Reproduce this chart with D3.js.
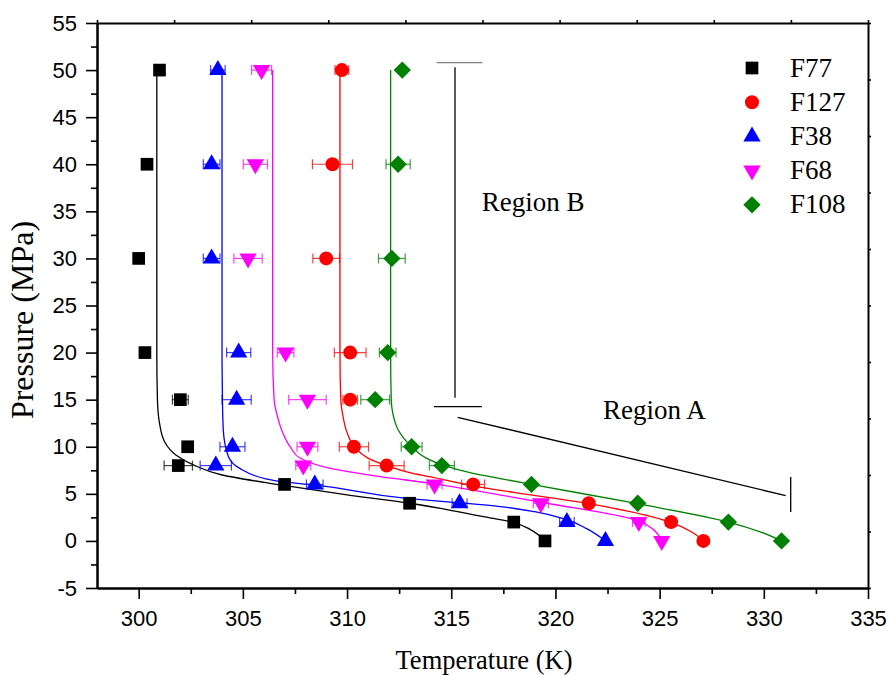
<!DOCTYPE html>
<html>
<head>
<meta charset="utf-8">
<script src="https://cdn.jsdelivr.net/npm/d3@7"></script>
<style>
  body { margin: 0; background: #fff; }
  svg { display: block; background: #fff; }
</style>
</head>
<body>
<svg id="chart" width="889" height="675"></svg>
<script>
// Pressure levels (MPa) shared by all samples
const pressures = [50, 40, 30, 20, 15, 10, 8, 6, 4, 2, 0];

// Measured temperature (K) and +/- error (K) for each sample
const f77T    = [301.0, 300.4, 300.0, 300.3, 302.0, 302.35, 301.9, 307.0, 313.0, 318.0, 319.5];
const f77Err  = [0, 0, 0, 0.15, 0.38, 0.2, 0.68, 0, 0, 0, 0];
const f127T   = [309.75, 309.3, 309.0, 310.15, 310.15, 310.33, 311.9, 316.05, 321.6, 325.55, 327.1];
const f127Err = [0.33, 0.96, 0.64, 0.76, 0.35, 0.7, 0.84, 0.55, 0, 0.25, 0];
const f38T    = [303.8, 303.5, 303.5, 304.8, 304.7, 304.5, 303.7, 308.45, 315.4, 320.55, 322.4];
const f38Err  = [0.35, 0.4, 0.4, 0.58, 0.7, 0.6, 0.75, 0.4, 0.36, 0.35, 0];
const f68T    = [305.9, 305.6, 305.25, 307.05, 308.1, 308.1, 307.9, 314.2, 319.3, 324.0, 325.1];
const f68Err  = [0.48, 0.58, 0.68, 0.4, 0.9, 0.5, 0.36, 0.36, 0.36, 0.3, 0];
const f108T   = [312.65, 312.45, 312.15, 311.95, 311.35, 313.1, 314.55, 318.85, 323.95, 328.3, 330.85];
const f108Err = [0, 0.58, 0.64, 0.4, 0.69, 0.5, 0.6, 0, 0, 0, 0];

// Fitted curves as [T (K), P (MPa)]
const fitF77 = [[300.87, 50], [300.87, 20], [300.9, 15], [301.0, 12.5], [301.25, 10.5], [301.8, 9.1],
  [302.6, 8.1], [304.0, 7.0], [306.8, 5.95], [310.0, 4.9], [313.0, 4.0], [314.8, 3.33], [316.5, 2.6],
  [318.0, 1.95], [318.8, 1.2], [319.5, 0]];
const fitF127 = [[309.66, 50], [309.66, 20], [309.7, 15], [309.8, 13.3], [310.0, 11.5], [310.35, 10.0],
  [311.0, 8.8], [311.9, 8.0], [313.0, 7.25], [314.0, 6.8], [316.05, 5.85], [318.0, 5.15], [321.6, 3.95],
  [325.5, 2.0], [326.5, 1.0], [327.1, 0]];
const fitF38 = [[304.0, 50], [304.0, 20], [304.02, 15], [304.06, 11.8], [304.3, 9.0], [304.85, 7.7],
  [306.1, 6.6], [306.8, 6.3], [308.4, 5.95], [312.86, 4.52], [315.4, 4.05], [317.34, 3.65], [319.0, 3.1],
  [320.5, 2.3], [321.5, 1.3], [322.4, 0]];
const fitF68 = [[306.43, 50], [306.43, 20], [306.5, 15], [306.65, 13.3], [306.95, 11.3], [307.3, 9.9],
  [307.74, 8.8], [309.2, 7.7], [311.6, 6.83], [314.0, 6.12], [317.3, 4.9], [319.6, 4.0], [323.9, 2.2],
  [324.7, 1.2], [325.1, 0]];
const fitF108 = [[312.09, 50], [312.09, 20], [312.12, 15], [312.2, 13.5], [312.45, 11.8], [313.1, 10.0],
  [313.8, 8.8], [314.6, 8.05], [316.0, 7.2], [317.4, 6.6], [318.85, 6.0], [323.95, 3.95], [328.3, 2.0],
  [329.9, 0.9], [330.85, 0]];

// Tick values
const xMajor = [300, 305, 310, 315, 320, 325, 330, 335];
const xMinor = [302.5, 307.5, 312.5, 317.5, 322.5, 327.5, 332.5];
const yMajor = [-5, 0, 5, 10, 15, 20, 25, 30, 35, 40, 45, 50, 55];
const yMinor = [-2.5, 2.5, 7.5, 12.5, 17.5, 22.5, 27.5, 32.5, 37.5, 42.5, 47.5, 52.5];

// Region annotations, in data units
const regionBLines = [[[314.3, 50.8], [316.5, 50.8]], [[315.18, 50.3], [315.18, 15.2]], [[314.17, 14.26], [316.47, 14.26]]];
const regionALines = [[[315.31, 13.13], [331.05, 4.81]], [[331.29, 6.79], [331.29, 3.08]]];
const regionLabels = [{ text: 'Region B', t: 316.47, p: 35.0 }, { text: 'Region A', t: 322.28, p: 12.95 }];

const series = [
  { name: 'F77',  temps: f77T,  errs: f77Err,  fit: fitF77,  color: '#000000', shape: 'square' },
  { name: 'F127', temps: f127T, errs: f127Err, fit: fitF127, color: '#ff0000', shape: 'circle' },
  { name: 'F38',  temps: f38T,  errs: f38Err,  fit: fitF38,  color: '#0000ff', shape: 'up' },
  { name: 'F68',  temps: f68T,  errs: f68Err,  fit: fitF68,  color: '#ff00ff', shape: 'down' },
  { name: 'F108', temps: f108T, errs: f108Err, fit: fitF108, color: '#008000', shape: 'diamond' }
];

const svg = d3.select('#chart');
const plotLeft = 97, plotRight = 868, plotTop = 23, plotBottom = 588;

const x = d3.scaleLinear().domain([298, 335]).range([plotLeft, plotRight]);
const y = d3.scaleLinear().domain([-5, 55]).range([plotBottom, plotTop]);

// marker shapes
function symbolPath(shape) {
  if (shape === 'square') return d3.symbol(d3.symbolSquare, 161)();
  if (shape === 'circle') return d3.symbol(d3.symbolCircle, 154)();
  if (shape === 'up' || shape === 'down') return d3.symbol(d3.symbolTriangle, 130)();
  return d3.symbol(d3.symbolSquare, 150)(); // diamond = rotated square
}
function symbolRotate(shape) {
  if (shape === 'down') return 180;
  if (shape === 'diamond') return 45;
  return 0;
}

// fitted curves
const fitLine = d3.line()
  .x(d => x(d[0]))
  .y(d => y(d[1]))
  .curve(d3.curveMonotoneY);

svg.append('g').selectAll('path')
  .data(series)
  .join('path')
  .attr('d', d => fitLine(d.fit))
  .attr('fill', 'none')
  .attr('stroke', d => d.color)
  .attr('stroke-width', 1.3);

// error bars + markers
series.forEach(s => {
  const pts = pressures.map((p, i) => ({ p: p, t: s.temps[i], e: s.errs[i] }));
  const g = svg.append('g');

  const eb = g.selectAll('g.err')
    .data(pts.filter(d => d.e > 0))
    .join('g')
    .attr('stroke', s.color)
    .attr('stroke-opacity', 0.75)
    .attr('stroke-width', 1.2);
  eb.append('line')
    .attr('x1', d => x(d.t - d.e)).attr('x2', d => x(d.t + d.e))
    .attr('y1', d => y(d.p)).attr('y2', d => y(d.p));
  eb.append('line')
    .attr('x1', d => x(d.t - d.e)).attr('x2', d => x(d.t - d.e))
    .attr('y1', d => y(d.p) - 5).attr('y2', d => y(d.p) + 5);
  eb.append('line')
    .attr('x1', d => x(d.t + d.e)).attr('x2', d => x(d.t + d.e))
    .attr('y1', d => y(d.p) - 5).attr('y2', d => y(d.p) + 5);

  g.selectAll('path.mark')
    .data(pts)
    .join('path')
    .attr('d', symbolPath(s.shape))
    .attr('transform', d => `translate(${x(d.t)},${y(d.p)}) rotate(${symbolRotate(s.shape)})`)
    .attr('fill', s.color);
});

// region annotations
const segLine = d3.line().x(d => x(d[0])).y(d => y(d[1]));
svg.append('g').selectAll('path')
  .data(regionBLines.concat(regionALines))
  .join('path')
  .attr('d', d => segLine(d))
  .attr('stroke', (d, i) => i === 0 ? '#808080' : '#000')
  .attr('stroke-width', 1.3)
  .attr('fill', 'none');

svg.append('g').selectAll('text')
  .data(regionLabels)
  .join('text')
  .attr('x', d => x(d.t))
  .attr('y', d => y(d.p))
  .attr('font-family', '"Liberation Serif", "Times New Roman", serif')
  .attr('font-size', 27)
  .text(d => d.text);

// axes
const axisFont = '"Liberation Sans", Arial, sans-serif';
const plainNum = d => String(d); // keep ASCII hyphen for -5

const xAxis = svg.append('g')
  .attr('transform', `translate(0,${plotBottom})`)
  .call(d3.axisBottom(x).tickValues(xMajor).tickSize(11).tickSizeOuter(0).tickPadding(11).tickFormat(plainNum));
const xMinorAxis = svg.append('g')
  .attr('transform', `translate(0,${plotBottom})`)
  .call(d3.axisBottom(x).tickValues(xMinor).tickSize(6).tickSizeOuter(0).tickFormat(''));

const yAxis = svg.append('g')
  .attr('transform', `translate(${plotLeft},0)`)
  .call(d3.axisLeft(y).tickValues(yMajor).tickSize(11).tickSizeOuter(0).tickPadding(9).tickFormat(plainNum));
const yMinorAxis = svg.append('g')
  .attr('transform', `translate(${plotLeft},0)`)
  .call(d3.axisLeft(y).tickValues(yMinor).tickSize(6).tickSizeOuter(0).tickFormat(''));

// top and right frame with small evenly spaced ticks
const topScale = d3.scaleLinear().domain([0, 10]).range([plotLeft, plotRight]);
const rightScale = d3.scaleLinear().domain([0, 10]).range([plotBottom, plotTop]);
const topAxis = svg.append('g')
  .attr('transform', `translate(0,${plotTop})`)
  .call(d3.axisTop(topScale).tickValues(d3.range(11)).tickSize(3).tickSizeOuter(0).tickFormat(''));
const rightAxis = svg.append('g')
  .attr('transform', `translate(${plotRight},0)`)
  .call(d3.axisRight(rightScale).tickValues(d3.range(11)).tickSize(3).tickSizeOuter(0).tickFormat(''));

[xAxis, xMinorAxis, yAxis, yMinorAxis, topAxis, rightAxis].forEach(a => {
  a.select('.domain').attr('stroke', '#000').attr('stroke-width', 2);
  a.selectAll('.tick line').attr('stroke', '#000').attr('stroke-width', 1.6);
  a.selectAll('.tick text').attr('font-family', axisFont).attr('font-size', 22).attr('fill', '#000');
});

// axis titles
svg.append('text')
  .attr('x', 484)
  .attr('y', 669)
  .attr('text-anchor', 'middle')
  .attr('font-family', '"Liberation Serif", "Times New Roman", serif')
  .attr('font-size', 26.5)
  .text('Temperature (K)');

svg.append('text')
  .attr('transform', 'translate(33,320) rotate(-90)')
  .attr('text-anchor', 'middle')
  .attr('font-family', '"Liberation Serif", "Times New Roman", serif')
  .attr('font-size', 32)
  .text('Pressure (MPa)');

// legend
const legend = svg.append('g').attr('transform', 'translate(752,68)');
const rows = legend.selectAll('g')
  .data(series)
  .join('g')
  .attr('transform', (d, i) => `translate(0,${i * 34.2})`);
rows.append('path')
  .attr('d', d => symbolPath(d.shape))
  .attr('transform', d => `rotate(${symbolRotate(d.shape)})`)
  .attr('fill', d => d.color);
rows.append('text')
  .attr('x', 38)
  .attr('y', 8.5)
  .attr('font-family', '"Liberation Serif", "Times New Roman", serif')
  .attr('font-size', 27)
  .text(d => d.name);
</script>
</body>
</html>
